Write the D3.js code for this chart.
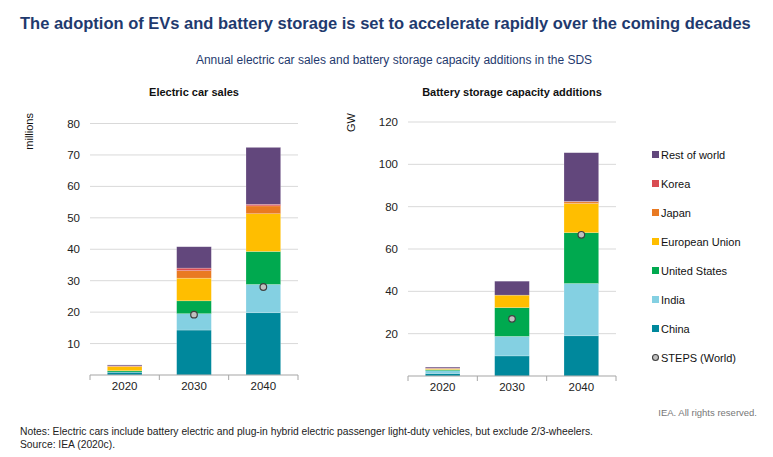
<!DOCTYPE html>
<html>
<head>
<meta charset="utf-8">
<script src="https://cdn.jsdelivr.net/npm/d3@7"></script>
<style>
  body { margin: 0; background: #fff; }
  svg text { font-family: "Liberation Sans", Arial, sans-serif; }
</style>
</head>
<body>
<svg id="chart" width="773" height="457"></svg>
<script>
// Annual electric car sales and battery storage additions in the SDS
const years = ['2020', '2030', '2040'];
const regions = ['China', 'India', 'United States', 'European Union', 'Japan', 'Korea', 'Rest of world'];

// electric car sales, millions
const carChina = [0.9, 14.3, 19.8];
const carIndia = [0.05, 5.2, 9.0];
const carUS = [0.4, 4.1, 10.5];
const carEU = [1.3, 7.2, 12.0];
const carJapan = [0.2, 2.4, 2.5];
const carKorea = [0.05, 0.8, 0.5];
const carRest = [0.3, 6.8, 18.1];
const carSteps = [null, 19.2, 28.0];

// battery storage capacity additions, GW
const batChina = [1.2, 9.5, 19.0];
const batIndia = [1.3, 9.2, 24.7];
const batUS = [0.5, 13.6, 24.0];
const batEU = [0.3, 5.9, 13.8];
const batJapan = [0.3, 0.0, 0.8];
const batKorea = [0.1, 0.0, 0.2];
const batRest = [0.5, 6.6, 23.0];
const batSteps = [null, 27.0, 66.7];

const colors = {
  'China': '#00889c',
  'India': '#84d0e2',
  'United States': '#00a94f',
  'European Union': '#ffbe00',
  'Japan': '#e97a22',
  'Korea': '#d94c52',
  'Rest of world': '#62477c'
};

const svg = d3.select('#chart');
const navy = '#1f3a6e';

svg.append('text')
  .attr('x', 20).attr('y', 29)
  .style('font-size', '16.5px').style('font-weight', 'bold')
  .attr('fill', navy)
  .text('The adoption of EVs and battery storage is set to accelerate rapidly over the coming decades');

svg.append('text')
  .attr('x', 394).attr('y', 64)
  .attr('text-anchor', 'middle')
  .style('font-size', '12px')
  .attr('fill', navy)
  .text('Annual electric car sales and battery storage capacity additions in the SDS');

function buildRows(series) {
  return years.map((yr, i) => {
    const row = { year: yr };
    regions.forEach((r, j) => { row[r] = series[j][i]; });
    return row;
  });
}

function panel(opts) {
  const g = svg.append('g');
  const x = d3.scaleBand().domain(years).range([opts.x0, opts.x1]).paddingInner(0.5).paddingOuter(0.25);
  const y = d3.scaleLinear().domain([0, opts.max]).range([opts.y0, opts.y1]);

  g.append('text')
    .attr('x', (opts.x0 + opts.x1) / 2).attr('y', 96)
    .attr('text-anchor', 'middle')
    .style('font-size', '11px').style('font-weight', 'bold')
    .attr('fill', '#111')
    .text(opts.title);

  // gridlines + tick labels
  const ticks = d3.range(opts.step, opts.max + 1, opts.step);
  g.selectAll('line.grid').data(ticks).join('line')
    .attr('x1', opts.x0).attr('x2', opts.x1)
    .attr('y1', d => y(d)).attr('y2', d => y(d))
    .attr('stroke', '#d9d9d9').attr('stroke-width', 1);
  g.selectAll('text.tick').data(ticks).join('text')
    .attr('x', opts.x0 - 10).attr('y', d => y(d) + 4)
    .attr('text-anchor', 'end')
    .style('font-size', '11.5px')
    .attr('fill', '#222')
    .text(d => d);

  g.append('text')
    .attr('transform', `translate(${opts.unitX},113) rotate(-90)`)
    .attr('text-anchor', 'end')
    .style('font-size', '11px')
    .attr('fill', '#111')
    .text(opts.unit);

  const rows = buildRows(opts.series);
  const stacked = d3.stack().keys(regions)(rows);

  g.selectAll('g.layer').data(stacked).join('g')
    .attr('fill', d => colors[d.key])
    .selectAll('rect').data(d => d).join('rect')
    .attr('x', d => x(d.data.year))
    .attr('width', x.bandwidth())
    .attr('y', d => y(d[1]))
    .attr('height', d => Math.max(0, y(d[0]) - y(d[1])))
    .attr('stroke', '#fff').attr('stroke-opacity', 0.35).attr('stroke-width', 0.6);

  // x axis
  g.append('line')
    .attr('x1', opts.x0).attr('x2', opts.x1)
    .attr('y1', opts.y0).attr('y2', opts.y0)
    .attr('stroke', '#a6a6a6').attr('stroke-width', 1.2);
  const bounds = years.map(yr => x(yr) - x.step() * x.paddingInner() / 2).concat([opts.x1]);
  bounds[0] = opts.x0;
  g.selectAll('line.xt').data(bounds).join('line')
    .attr('x1', d => d).attr('x2', d => d)
    .attr('y1', opts.y0).attr('y2', opts.y0 + 5)
    .attr('stroke', '#a6a6a6');
  g.selectAll('text.xl').data(years).join('text')
    .attr('x', d => x(d) + x.bandwidth() / 2).attr('y', opts.y0 + 15)
    .attr('text-anchor', 'middle')
    .style('font-size', '11.5px')
    .attr('fill', '#222')
    .text(d => d);

  // STEPS markers
  const steps = years.map((yr, i) => ({ year: yr, v: opts.steps[i] })).filter(d => d.v != null);
  g.selectAll('circle').data(steps).join('circle')
    .attr('cx', d => x(d.year) + x.bandwidth() / 2)
    .attr('cy', d => y(d.v))
    .attr('r', 3.3)
    .attr('fill', '#c0c0c0').attr('stroke', '#404040').attr('stroke-width', 1.2);
}

panel({
  title: 'Electric car sales', unit: 'millions', unitX: 33,
  x0: 90, x1: 298, y0: 375, y1: 123.5, max: 80, step: 10,
  series: [carChina, carIndia, carUS, carEU, carJapan, carKorea, carRest],
  steps: carSteps
});

panel({
  title: 'Battery storage capacity additions', unit: 'GW', unitX: 355,
  x0: 408, x1: 616, y0: 376, y1: 122, max: 120, step: 20,
  series: [batChina, batIndia, batUS, batEU, batJapan, batKorea, batRest],
  steps: batSteps
});

// legend
const legendItems = regions.slice().reverse();
const lg = svg.append('g');
legendItems.forEach((r, i) => {
  const ly = 155 + i * 29;
  lg.append('rect').attr('x', 652).attr('y', ly - 4).attr('width', 7).attr('height', 7).attr('fill', colors[r]);
  lg.append('text').attr('x', 661).attr('y', ly + 3.5)
    .style('font-size', '11px').attr('fill', '#111').text(r);
});
lg.append('circle').attr('cx', 655.5).attr('cy', 155 + 7 * 29 - 0.5).attr('r', 3)
  .attr('fill', '#c0c0c0').attr('stroke', '#404040').attr('stroke-width', 1.1);
lg.append('text').attr('x', 661).attr('y', 155 + 7 * 29 + 3.5)
  .style('font-size', '11px').attr('fill', '#111').text('STEPS (World)');

svg.append('text')
  .attr('x', 757).attr('y', 416)
  .attr('text-anchor', 'end')
  .style('font-size', '9.5px').attr('fill', '#777')
  .text('IEA. All rights reserved.');
svg.append('text')
  .attr('x', 20).attr('y', 435)
  .style('font-size', '10.3px').attr('fill', '#222')
  .text('Notes: Electric cars include battery electric and plug-in hybrid electric passenger light-duty vehicles, but exclude 2/3-wheelers.');
svg.append('text')
  .attr('x', 20).attr('y', 448)
  .style('font-size', '10.3px').attr('fill', '#222')
  .text('Source: IEA (2020c).');
</script>
</body>
</html>
